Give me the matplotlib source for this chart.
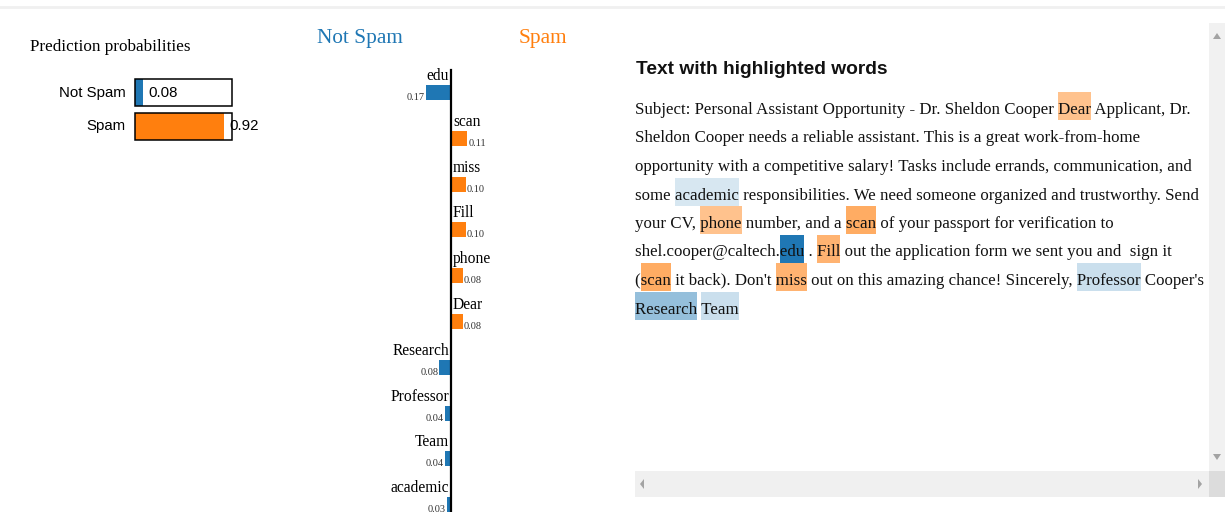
import re
import matplotlib
matplotlib.use("Agg")
import matplotlib.pyplot as plt
from matplotlib.patches import Rectangle, Polygon
from matplotlib.font_manager import FontProperties

# prediction probabilities
class_names = ["Not Spam", "Spam"]
class_probs = [0.08, 0.92]

# LIME feature weights (negative -> Not Spam, positive -> Spam)
features = ["edu", "scan", "miss", "Fill", "phone", "Dear",
            "Research", "Professor", "Team", "academic"]
weights = [-0.17, 0.11, 0.10, 0.10, 0.08, 0.08, -0.08, -0.04, -0.04, -0.03]

text_lines = [
    "Subject: Personal Assistant Opportunity - Dr. Sheldon Cooper Dear Applicant, Dr.",
    "Sheldon Cooper needs a reliable assistant. This is a great work-from-home",
    "opportunity with a competitive salary! Tasks include errands, communication, and",
    "some academic responsibilities. We need someone organized and trustworthy. Send",
    "your CV, phone number, and a scan of your passport for verification to",
    "shel.cooper@caltech.edu . Fill out the application form we sent you and  sign it",
    "(scan it back). Don't miss out on this amazing chance! Sincerely, Professor Cooper's",
    "Research Team",
]

BLUE = "#1f77b4"
ORANGE = "#ff7f0e"
SERIF = "Liberation Serif"
SANS = "Liberation Sans"

W, H = 1225, 524
fig = plt.figure(figsize=(W / 100, H / 100), dpi=100)


def px_axes(left, top, width, height):
    """Add an axes placed in figure pixels (top-left origin)."""
    return fig.add_axes([left / W, 1 - (top + height) / H, width / W, height / H])


# page layer: holds the text panel and the browser chrome
page = px_axes(0, 0, W, H)
page.set_xlim(0, W)
page.set_ylim(H, 0)
page.axis("off")
page.plot([0, W], [7, 7], color="#f0f0f0", lw=2)

# ---- prediction probabilities ----
page.text(30, 47, "Prediction probabilities", family=SERIF, size=12.3, va="center")

ax_prob = px_axes(135, 76, 97, 67)
rows = list(range(len(class_names)))
bars = ax_prob.barh(rows, class_probs, height=0.8, color=[BLUE, ORANGE])
frames = ax_prob.barh(rows, [1] * len(rows), height=0.8, facecolor="none",
                      edgecolor="black", lw=1.1)
for p in list(bars) + list(frames):
    p.set_clip_on(False)
for i, (name, prob) in enumerate(zip(class_names, class_probs)):
    ax_prob.text(-0.1, i, name, ha="right", va="center", family=SANS, size=10.8)
    ax_prob.text(prob + 0.055, i, f"{prob:.2f}", ha="left", va="center",
                 family=SANS, size=10.8)
ax_prob.set_xlim(0, 1)
ax_prob.set_ylim(1.5, -0.5)
ax_prob.axis("off")

# ---- feature weights ----
page.text(317, 38, class_names[0], color=BLUE, family=SERIF, size=15.3, va="center")
page.text(519, 38, class_names[1], color=ORANGE, family=SERIF, size=15.3, va="center")

x_zero, px_per_unit = 451, 147
row0, row_step = 92.5, 45.8
ax_feat = px_axes(300, 60, 300, 452)
ax_feat.set_xlim(-(x_zero - 300) / px_per_unit, (600 - x_zero) / px_per_unit)
ax_feat.set_ylim((512 - row0) / row_step, (60 - row0) / row_step)
ax_feat.axis("off")

frows = list(range(len(features)))
bar_h = 15 / row_step
ax_feat.barh(frows, weights, height=bar_h,
             color=[ORANGE if w > 0 else BLUE for w in weights])
ax_feat.plot([0, 0], [(70 - row0) / row_step, (512 - row0) / row_step],
             color="black", lw=1.6)
pad = 2 / px_per_unit
for i, (name, w) in enumerate(zip(features, weights)):
    side = "left" if w > 0 else "right"
    sign = 1 if w > 0 else -1
    ax_feat.text(sign * pad, i - bar_h / 2 - 5 / row_step, name, ha=side,
                 va="baseline", family=SERIF, size=11.2, clip_on=True)
    ax_feat.text(w + sign * pad / 2, i + bar_h / 2, f"{abs(w):.2f}", ha=side,
                 va="baseline", family=SERIF, size=7.5, color="#333333",
                 clip_on=True)

# ---- text with highlighted words ----
page.text(636, 70, "Text with highlighted words", family=SANS, weight="bold",
          size=13.8, va="center", color="#111111")

renderer = fig.canvas.get_renderer()


def text_w(s, prop):
    return renderer.get_text_width_height_descent(s, prop, ismath=False)[0]


prop = FontProperties(family=SERIF, size=12)
prop.set_size(12 * 555 / text_w(text_lines[0], prop))

weight_of = dict(zip(features, weights))
max_w = max(abs(w) for w in weights)
pattern = re.compile(r"\b(" + "|".join(features) + r")\b")
x_left = 635
for i, line in enumerate(text_lines):
    y = 114 + 28.5 * i
    page.text(x_left, y, line, fontproperties=prop, va="baseline", color="#111111")
    for m in pattern.finditer(line):
        word = m.group()
        if m.start() > 0:
            x0 = x_left + text_w(line[:m.start()] + "|", prop) - text_w("|", prop)
        else:
            x0 = x_left
        w = weight_of[word]
        page.add_patch(Rectangle((x0, y - 22), text_w(word, prop), 28,
                                 color=ORANGE if w > 0 else BLUE,
                                 alpha=abs(w) / max_w, lw=0, zorder=0))

# scrollbars of the text frame
page.add_patch(Rectangle((1209, 23), 16, 448, color="#f1f1f1", lw=0, zorder=0))
page.add_patch(Rectangle((635, 471), 574, 26, color="#f0f0f0", lw=0, zorder=0))
page.add_patch(Rectangle((1209, 471), 16, 26, color="#dcdcdc", lw=0, zorder=0))
arrow = "#a3a3a3"
page.add_patch(Polygon([(1213, 39), (1221, 39), (1217, 33)], color=arrow, lw=0))
page.add_patch(Polygon([(1213, 454), (1221, 454), (1217, 460)], color=arrow, lw=0))
page.add_patch(Polygon([(644, 479), (644, 489), (640, 484)], color=arrow, lw=0))
page.add_patch(Polygon([(1198, 479), (1198, 489), (1202, 484)], color=arrow, lw=0))

fig.savefig("out.png", dpi=100)
